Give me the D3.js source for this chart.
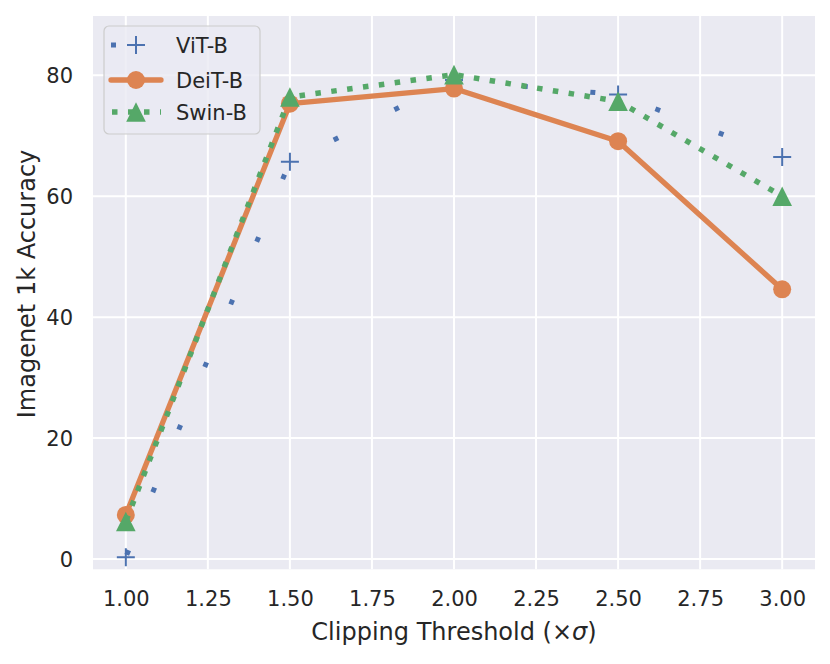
<!DOCTYPE html>
<html>
<head>
<meta charset="utf-8">
<script src="https://cdn.jsdelivr.net/npm/d3@7"></script>
<style>
  body { margin: 0; background: #fff; }
  text { font-family: "DejaVu Sans", sans-serif; fill: #262626; }
</style>
</head>
<body>
<div id="chart"></div>
<script>
// values
var thresholds = [1.0, 1.5, 2.0, 2.5, 3.0];
var vitAcc = [0.3, 65.7, 79.2, 76.8, 66.5];
var deitAcc = [7.3, 75.3, 77.8, 69.1, 44.6];
var swinAcc = [6.2, 76.4, 80.1, 75.7, 60.0];
var seriesNames = ["ViT-B", "DeiT-B", "Swin-B"];
var xTicks = [1.0, 1.25, 1.5, 1.75, 2.0, 2.25, 2.5, 2.75, 3.0];
var yTicks = [0, 20, 40, 60, 80];

var width = 830, height = 664;
var plot = {left: 93, right: 815, top: 16, bottom: 569.3};

var svg = d3.select("#chart").append("svg")
  .attr("width", width)
  .attr("height", height);

var x = d3.scaleLinear().domain([0.9, 3.1]).range([plot.left, plot.right]);
var y = d3.scaleLinear().domain([-1.7, 89.8]).range([plot.bottom, plot.top]);

// background
svg.append("rect")
  .attr("x", plot.left).attr("y", plot.top)
  .attr("width", plot.right - plot.left)
  .attr("height", plot.bottom - plot.top)
  .attr("fill", "#EAEAF2");

// grid
svg.append("g").selectAll("line").data(xTicks).enter().append("line")
  .attr("x1", d => x(d)).attr("x2", d => x(d))
  .attr("y1", plot.top).attr("y2", plot.bottom)
  .attr("stroke", "#fff").attr("stroke-width", 2);
svg.append("g").selectAll("line").data(yTicks).enter().append("line")
  .attr("x1", plot.left).attr("x2", plot.right)
  .attr("y1", d => y(d)).attr("y2", d => y(d))
  .attr("stroke", "#fff").attr("stroke-width", 2);

// axes
var xAxis = svg.append("g")
  .attr("transform", `translate(0, ${plot.bottom})`)
  .call(d3.axisBottom(x).tickValues(xTicks).tickFormat(d3.format(".2f")).tickSize(0).tickPadding(22));
var yAxis = svg.append("g")
  .attr("transform", `translate(${plot.left}, 0)`)
  .call(d3.axisLeft(y).tickValues(yTicks).tickSize(0).tickPadding(20));
[xAxis, yAxis].forEach(function(a) {
  a.select(".domain").remove();
  a.selectAll("text").style("font-size", "21px").attr("fill", "#262626");
});
yAxis.selectAll("text").attr("dy", "0.36em");

var xlab = svg.append("text")
  .attr("x", (plot.left + plot.right) / 2)
  .attr("y", 640)
  .attr("text-anchor", "middle")
  .style("font-size", "24px");
xlab.append("tspan").text("Clipping Threshold (×");
xlab.append("tspan").style("font-style", "italic").text("σ");
xlab.append("tspan").text(")");

svg.append("text")
  .attr("transform", "translate(35, 284) rotate(-90)")
  .attr("text-anchor", "middle")
  .style("font-size", "24px")
  .text("Imagenet 1k Accuracy");

var line = d3.line().x(d => x(d[0])).y(d => y(d[1]));
function pairs(vals) { return thresholds.map((t, i) => [t, vals[i]]); }

var colors = {vit: "#4C72B0", deit: "#DD8452", swin: "#55A868"};

function plusPath(s) { return `M${-s},0H${s}M0,${-s}V${s}`; }
function triPath(s) { return `M0,${-s}L${s},${s}L${-s},${s}Z`; }

// ViT-B
svg.append("path")
  .datum(pairs(vitAcc))
  .attr("d", line)
  .attr("fill", "none")
  .attr("stroke", colors.vit)
  .attr("stroke-width", 5)
  .attr("stroke-dasharray", "5,62.8")
  .attr("stroke-dashoffset", -2.5);
svg.append("g").selectAll("path").data(pairs(vitAcc)).enter().append("path")
  .attr("transform", d => `translate(${x(d[0])},${y(d[1])})`)
  .attr("d", plusPath(9))
  .attr("stroke", colors.vit).attr("stroke-width", 2).attr("fill", "none");

// DeiT-B
svg.append("path")
  .datum(pairs(deitAcc))
  .attr("d", line)
  .attr("fill", "none")
  .attr("stroke", colors.deit)
  .attr("stroke-width", 5.3)
  .attr("stroke-linejoin", "round")
  .attr("stroke-linecap", "round");
svg.append("g").selectAll("circle").data(pairs(deitAcc)).enter().append("circle")
  .attr("cx", d => x(d[0])).attr("cy", d => y(d[1]))
  .attr("r", 9)
  .attr("fill", colors.deit);

// Swin-B
svg.append("path")
  .datum(pairs(swinAcc))
  .attr("d", line)
  .attr("fill", "none")
  .attr("stroke", colors.swin)
  .attr("stroke-width", 5.5)
  .attr("stroke-dasharray", "5.5,10.5")
  .attr("stroke-dashoffset", -0.85);
svg.append("g").selectAll("path").data(pairs(swinAcc)).enter().append("path")
  .attr("transform", d => `translate(${x(d[0])},${y(d[1])})`)
  .attr("d", triPath(9.8))
  .attr("fill", colors.swin);

// legend
var legend = svg.append("g");
legend.append("rect")
  .attr("x", 104).attr("y", 26).attr("width", 156).attr("height", 108)
  .attr("rx", 5)
  .attr("fill", "#EAEAF2").attr("fill-opacity", 0.8)
  .attr("stroke", "#cccccc").attr("stroke-width", 1.2);

var rowY = [45, 80, 112];
var hx0 = 111, hx1 = 161, hmid = 136;
legend.append("line")
  .attr("x1", hx0).attr("x2", hx1).attr("y1", rowY[0]).attr("y2", rowY[0])
  .attr("stroke", colors.vit).attr("stroke-width", 5).attr("stroke-dasharray", "5,62.8");
legend.append("path")
  .attr("transform", `translate(${hmid},${rowY[0]})`)
  .attr("d", plusPath(9)).attr("stroke", colors.vit).attr("stroke-width", 2);
legend.append("line")
  .attr("x1", hx0).attr("x2", hx1).attr("y1", rowY[1]).attr("y2", rowY[1])
  .attr("stroke", colors.deit).attr("stroke-width", 5.3).attr("stroke-linecap", "round");
legend.append("circle")
  .attr("cx", hmid).attr("cy", rowY[1]).attr("r", 9).attr("fill", colors.deit);
legend.append("line")
  .attr("x1", hx0 + 1).attr("x2", hx1).attr("y1", rowY[2]).attr("y2", rowY[2])
  .attr("stroke", colors.swin).attr("stroke-width", 5.5).attr("stroke-dasharray", "5.5,10.5");
legend.append("path")
  .attr("transform", `translate(${hmid},${rowY[2]})`)
  .attr("d", triPath(9.8)).attr("fill", colors.swin);

legend.selectAll("text.lbl").data(seriesNames).enter().append("text")
  .attr("class", "lbl")
  .attr("x", 176)
  .attr("y", (d, i) => rowY[i])
  .attr("dy", "0.36em")
  .style("font-size", "21px")
  .text(d => d);
</script>
</body>
</html>
